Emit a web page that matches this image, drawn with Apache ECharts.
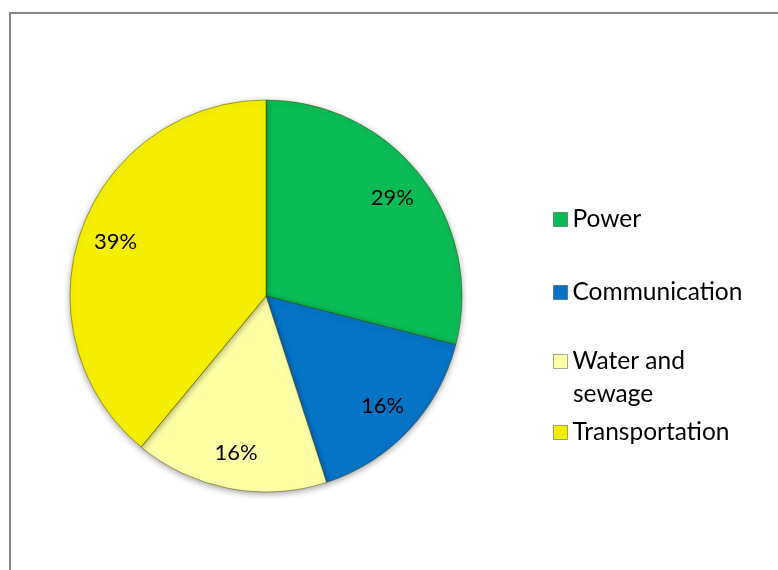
<!DOCTYPE html>
<html>
<head>
<meta charset="utf-8">
<script src="https://cdn.jsdelivr.net/npm/echarts@6/dist/echarts.min.js"></script>
<style>html,body{margin:0;padding:0;background:#fff;}#c{width:778px;height:570px;}</style>
</head>
<body>
<div id="c"></div>
<script>
const categories = ['Power', 'Communication', 'Water and sewage', 'Transportation'];
const values = [29, 16, 16, 39];
const colors = ['#0BBB55', '#0573C6', '#FFFFA6', '#F6EE00'];
const legendNames = ['Power', 'Communication', 'Water and', 'Transportation'];
const legendWrap = 'sewage';

const chart = echarts.init(document.getElementById('c'), null, {renderer: 'canvas'});
const FONT = 'Lato, "Open Sans", sans-serif';
const LEG_FS = 24.5;
const legendCenters = [219, 292, 361, 432];
const legends = categories.map((c, i) => ({
  data: [c],
  orient: 'vertical',
  left: 553,
  top: legendCenters[i] - 12,
  padding: 0,
  itemWidth: 14,
  itemHeight: 14,
  icon: 'rect',
  selectedMode: false,
  itemStyle: {borderColor: 'rgba(0,0,0,0.35)', borderWidth: 1},
  formatter: () => legendNames[i],
  textStyle: {fontFamily: FONT, fontSize: LEG_FS, color: '#000', lineHeight: 24},
  itemGap: 0
}));
chart.setOption({
  animation: false,
  backgroundColor: '#fff',
  graphic: [{
    type: 'rect', shape: {x: 10, y: 13, width: 820, height: 620},
    style: {fill: 'none', stroke: '#868686', lineWidth: 2}, silent: true
  }, {
    type: 'text', left: 573, top: 394 - 12,
    style: {text: legendWrap, font: LEG_FS + 'px ' + FONT, fill: '#000', lineHeight: 24}
  }],
  legend: legends,
  series: [{
    type: 'pie',
    center: [266, 296],
    radius: [0, 196],
    startAngle: 90,
    clockwise: true,
    data: categories.map((c, i) => ({name: c, value: values[i], itemStyle: {color: colors[i]}})),
    label: {show: false},
    labelLine: {show: false},
    itemStyle: {
      borderColor: 'rgba(60,60,0,0.45)', borderWidth: 1,
      shadowBlur: 6, shadowColor: 'rgba(0,0,0,0.35)', shadowOffsetY: 2
    },
    emphasis: {disabled: true}
  }, {
    type: 'pie',
    center: [266, 296],
    radius: [118, 196],
    startAngle: 90,
    clockwise: true,
    silent: true,
    data: categories.map((c, i) => ({name: c, value: values[i]})),
    itemStyle: {color: 'rgba(0,0,0,0)', borderWidth: 0},
    label: {
      show: true, position: 'inside',
      formatter: p => p.value + '%',
      fontFamily: FONT, fontSize: 22, color: '#000'
    },
    labelLine: {show: false},
    emphasis: {disabled: true}
  }]
});
</script>
</body>
</html>
